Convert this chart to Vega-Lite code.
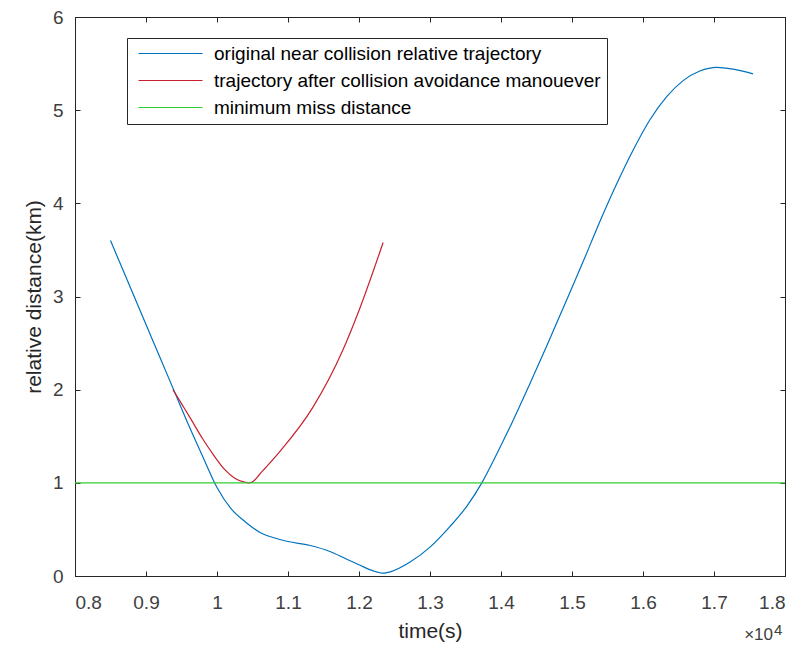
{
  "$schema": "https://vega.github.io/schema/vega-lite/v6.json",
  "width": 710,
  "height": 559,
  "autosize": "none",
  "padding": {"left": 75, "top": 17, "right": 22, "bottom": 73},
  "background": "white",
  "config": {
    "font": "Liberation Sans",
    "view": {"stroke": "#262626", "strokeWidth": 1},
    "axis": {
      "domainColor": "#262626",
      "tickColor": "#262626",
      "tickSize": -5,
      "grid": false,
      "labelColor": "#404040",
      "labelFont": "Liberation Sans",
      "labelFontSize": 19,
      "titleFont": "Liberation Sans",
      "titleFontSize": 21,
      "titleFontWeight": "normal",
      "titleColor": "#262626"
    }
  },
  "datasets": {
    "curves": [
      {"t": 8500, "d": 3.60, "series": "original near collision relative trajectory"},
      {"t": 8750, "d": 3.15, "series": "original near collision relative trajectory"},
      {"t": 9000, "d": 2.70, "series": "original near collision relative trajectory"},
      {"t": 9200, "d": 2.34, "series": "original near collision relative trajectory"},
      {"t": 9400, "d": 1.98, "series": "original near collision relative trajectory"},
      {"t": 9600, "d": 1.62, "series": "original near collision relative trajectory"},
      {"t": 9800, "d": 1.28, "series": "original near collision relative trajectory"},
      {"t": 10000, "d": 0.95, "series": "original near collision relative trajectory"},
      {"t": 10200, "d": 0.72, "series": "original near collision relative trajectory"},
      {"t": 10400, "d": 0.58, "series": "original near collision relative trajectory"},
      {"t": 10600, "d": 0.47, "series": "original near collision relative trajectory"},
      {"t": 10800, "d": 0.41, "series": "original near collision relative trajectory"},
      {"t": 11000, "d": 0.37, "series": "original near collision relative trajectory"},
      {"t": 11300, "d": 0.33, "series": "original near collision relative trajectory"},
      {"t": 11600, "d": 0.26, "series": "original near collision relative trajectory"},
      {"t": 11800, "d": 0.19, "series": "original near collision relative trajectory"},
      {"t": 12000, "d": 0.12, "series": "original near collision relative trajectory"},
      {"t": 12200, "d": 0.055, "series": "original near collision relative trajectory"},
      {"t": 12350, "d": 0.03, "series": "original near collision relative trajectory"},
      {"t": 12440, "d": 0.045, "series": "original near collision relative trajectory"},
      {"t": 12720, "d": 0.15, "series": "original near collision relative trajectory"},
      {"t": 13000, "d": 0.31, "series": "original near collision relative trajectory"},
      {"t": 13280, "d": 0.53, "series": "original near collision relative trajectory"},
      {"t": 13520, "d": 0.75, "series": "original near collision relative trajectory"},
      {"t": 13730, "d": 1.00, "series": "original near collision relative trajectory"},
      {"t": 13940, "d": 1.31, "series": "original near collision relative trajectory"},
      {"t": 14170, "d": 1.67, "series": "original near collision relative trajectory"},
      {"t": 14410, "d": 2.07, "series": "original near collision relative trajectory"},
      {"t": 14650, "d": 2.48, "series": "original near collision relative trajectory"},
      {"t": 14900, "d": 2.92, "series": "original near collision relative trajectory"},
      {"t": 15160, "d": 3.38, "series": "original near collision relative trajectory"},
      {"t": 15390, "d": 3.80, "series": "original near collision relative trajectory"},
      {"t": 15630, "d": 4.21, "series": "original near collision relative trajectory"},
      {"t": 15860, "d": 4.57, "series": "original near collision relative trajectory"},
      {"t": 16100, "d": 4.90, "series": "original near collision relative trajectory"},
      {"t": 16340, "d": 5.15, "series": "original near collision relative trajectory"},
      {"t": 16570, "d": 5.32, "series": "original near collision relative trajectory"},
      {"t": 16800, "d": 5.42, "series": "original near collision relative trajectory"},
      {"t": 17040, "d": 5.46, "series": "original near collision relative trajectory"},
      {"t": 17270, "d": 5.44, "series": "original near collision relative trajectory"},
      {"t": 17550, "d": 5.39, "series": "original near collision relative trajectory"},
      {"t": 9380, "d": 2.00, "series": "trajectory after collision avoidance manouever"},
      {"t": 9500, "d": 1.85, "series": "trajectory after collision avoidance manouever"},
      {"t": 9620, "d": 1.70, "series": "trajectory after collision avoidance manouever"},
      {"t": 9800, "d": 1.47, "series": "trajectory after collision avoidance manouever"},
      {"t": 9950, "d": 1.30, "series": "trajectory after collision avoidance manouever"},
      {"t": 10100, "d": 1.15, "series": "trajectory after collision avoidance manouever"},
      {"t": 10250, "d": 1.05, "series": "trajectory after collision avoidance manouever"},
      {"t": 10400, "d": 1.005, "series": "trajectory after collision avoidance manouever"},
      {"t": 10450, "d": 1.00, "series": "trajectory after collision avoidance manouever"},
      {"t": 10500, "d": 1.01, "series": "trajectory after collision avoidance manouever"},
      {"t": 10610, "d": 1.10, "series": "trajectory after collision avoidance manouever"},
      {"t": 10890, "d": 1.34, "series": "trajectory after collision avoidance manouever"},
      {"t": 11350, "d": 1.81, "series": "trajectory after collision avoidance manouever"},
      {"t": 11770, "d": 2.42, "series": "trajectory after collision avoidance manouever"},
      {"t": 12000, "d": 2.85, "series": "trajectory after collision avoidance manouever"},
      {"t": 12340, "d": 3.58, "series": "trajectory after collision avoidance manouever"}
    ],
    "miss": [
      {"t": 8000, "d": 1, "series": "minimum miss distance"},
      {"t": 18000, "d": 1, "series": "minimum miss distance"}
    ]
  },
  "layer": [
    {
      "data": {"name": "curves"},
      "mark": {"type": "line", "strokeWidth": 1.2, "interpolate": "monotone"},
      "encoding": {
        "x": {
          "field": "t", "type": "quantitative",
          "scale": {"domain": [8000, 18000], "nice": false},
          "axis": {
            "orient": "bottom",
            "values": [8000, 9000, 10000, 11000, 12000, 13000, 14000, 15000, 16000, 17000, 18000],
            "labelExpr": "format(datum.value/10000, '.1~f')",
            "labelPadding": 22,
            "title": "time(s)",
            "titlePadding": 8
          }
        },
        "y": {
          "field": "d", "type": "quantitative",
          "scale": {"domain": [0, 6], "nice": false},
          "axis": {
            "orient": "left",
            "values": [0, 1, 2, 3, 4, 5, 6],
            "labelPadding": 17,
            "title": "relative distance(km)",
            "titlePadding": 8
          }
        },
        "color": {
          "field": "series", "type": "nominal",
          "scale": {
            "domain": ["original near collision relative trajectory", "trajectory after collision avoidance manouever", "minimum miss distance"],
            "range": ["#0072BD", "#C8202E", "#33CC33"]
          },
          "legend": {
            "title": null,
            "orient": "none",
            "legendX": 52,
            "legendY": 21,
            "symbolType": "M-1,0H15",
            "symbolSize": 64,
            "symbolStrokeWidth": 1.2,
            "labelFontSize": 19,
            "labelFont": "Liberation Sans",
            "labelColor": "#000000",
            "labelLimit": 1000,
            "labelOffset": 62,
            "rowPadding": 7,
            "strokeColor": "#262626",
            "fillColor": "white",
            "padding": 6
          }
        }
      }
    },
    {
      "data": {"name": "miss"},
      "mark": {"type": "line", "strokeWidth": 1.2},
      "encoding": {
        "x": {
          "field": "t", "type": "quantitative",
          "axis": {
            "orient": "top",
            "values": [8000, 9000, 10000, 11000, 12000, 13000, 14000, 15000, 16000, 17000, 18000],
            "labels": false,
            "title": null
          }
        },
        "y": {
          "field": "d", "type": "quantitative",
          "axis": {
            "orient": "right",
            "values": [0, 1, 2, 3, 4, 5, 6],
            "labels": false,
            "title": null
          }
        },
        "color": {"field": "series", "type": "nominal"}
      }
    },
    {
      "data": {"values": [{"note": "exponent base"}]},
      "mark": {"type": "text", "align": "right", "baseline": "alphabetic", "fontSize": 17, "font": "Liberation Sans", "color": "#404040", "dx": -12},
      "encoding": {
        "x": {"datum": 18000, "axis": null},
        "y": {"datum": -0.687, "axis": null},
        "text": {"value": "×10"}
      }
    },
    {
      "data": {"values": [{"note": "exponent power"}]},
      "mark": {"type": "text", "align": "left", "baseline": "alphabetic", "fontSize": 15, "font": "Liberation Sans", "color": "#404040", "dx": -11, "dy": -5},
      "encoding": {
        "x": {"datum": 18000, "axis": null},
        "y": {"datum": -0.687, "axis": null},
        "text": {"value": "4"}
      }
    }
  ],
  "resolve": {"axis": {"x": "independent", "y": "independent"}}
}
